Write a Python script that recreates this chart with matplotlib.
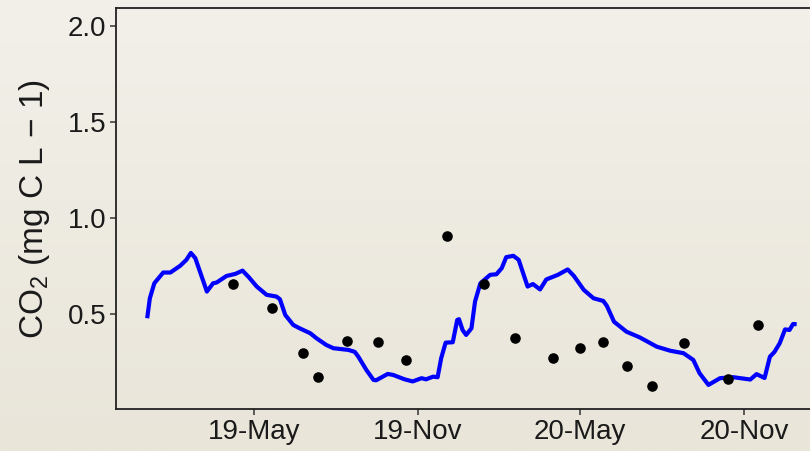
import numpy as np
import pandas as pd
import matplotlib
matplotlib.use("Agg")
import matplotlib.pyplot as plt
import matplotlib.dates as mdates

plt.rcParams["font.family"] = ["Liberation Sans", "DejaVu Sans"]
plt.rcParams["mathtext.fontset"] = "custom"
plt.rcParams["mathtext.rm"] = "Liberation Sans"
plt.rcParams["mathtext.it"] = "Liberation Sans:italic"

# Modelled CO2 concentration (continuous series)
model_dates = [
    "2019-01-01", "2019-01-04", "2019-01-09", "2019-01-19", "2019-01-27",
    "2019-02-07", "2019-02-14", "2019-02-19", "2019-02-24", "2019-03-09",
    "2019-03-16", "2019-03-20", "2019-03-31", "2019-04-10", "2019-04-18",
    "2019-04-25", "2019-05-04", "2019-05-15", "2019-05-26", "2019-05-30",
    "2019-06-05", "2019-06-14", "2019-06-21", "2019-07-03", "2019-07-10",
    "2019-07-21", "2019-07-29", "2019-08-15", "2019-08-22", "2019-08-26",
    "2019-09-04", "2019-09-12", "2019-09-15", "2019-09-28", "2019-10-04",
    "2019-10-17", "2019-10-26", "2019-11-05", "2019-11-10", "2019-11-18",
    "2019-11-23", "2019-11-27", "2019-12-02", "2019-12-10", "2019-12-15",
    "2019-12-17", "2019-12-21", "2019-12-25", "2019-12-31", "2020-01-04",
    "2020-01-10", "2020-01-21", "2020-01-28", "2020-02-03", "2020-02-08",
    "2020-02-16", "2020-02-22", "2020-03-03", "2020-03-09", "2020-03-17",
    "2020-03-24", "2020-04-06", "2020-04-17", "2020-04-24", "2020-05-05",
    "2020-05-16", "2020-05-27", "2020-05-31", "2020-06-08", "2020-06-22",
    "2020-07-07", "2020-07-26", "2020-08-10", "2020-08-25", "2020-09-05",
    "2020-09-12", "2020-09-22", "2020-10-05", "2020-10-20", "2020-11-08",
    "2020-11-15", "2020-11-24", "2020-11-30", "2020-12-05", "2020-12-11",
    "2020-12-17", "2020-12-22", "2020-12-26", "2020-12-30",
]
model_co2 = [
    0.479, 0.583, 0.661, 0.717, 0.717,
    0.752, 0.783, 0.819, 0.792, 0.618,
    0.661, 0.665, 0.699, 0.710, 0.727,
    0.693, 0.644, 0.601, 0.592, 0.578,
    0.496, 0.444, 0.427, 0.401, 0.375,
    0.340, 0.323, 0.314, 0.304, 0.279,
    0.210, 0.158, 0.156, 0.189, 0.184,
    0.161, 0.150, 0.167, 0.161, 0.175,
    0.172, 0.271, 0.352, 0.354, 0.470,
    0.474, 0.418, 0.392, 0.427, 0.566,
    0.661, 0.705, 0.708, 0.740, 0.797,
    0.804, 0.783, 0.644, 0.657, 0.629,
    0.681, 0.705, 0.733, 0.699, 0.627,
    0.583, 0.569, 0.543, 0.461, 0.409,
    0.379, 0.331, 0.310, 0.297, 0.262,
    0.193, 0.132, 0.167, 0.172, 0.160,
    0.188, 0.168, 0.279, 0.303, 0.349,
    0.421, 0.418, 0.449, 0.448,
]

# Measured CO2 samples
obs_dates = [
    "2019-04-07", "2019-05-21", "2019-06-25", "2019-07-12", "2019-08-13",
    "2019-09-17", "2019-10-19", "2019-12-03", "2020-01-14", "2020-02-18",
    "2020-03-31", "2020-05-01", "2020-05-27", "2020-06-23", "2020-07-21",
    "2020-08-25", "2020-10-14", "2020-11-17",
]
obs_co2 = [
    0.658, 0.534, 0.297, 0.172, 0.362,
    0.356, 0.262, 0.908, 0.656, 0.378,
    0.274, 0.323, 0.356, 0.232, 0.128,
    0.351, 0.161, 0.443,
]

y_ticks = [0.5, 1.0, 1.5, 2.0]
x_ticks = ["2019-05-01", "2019-11-01", "2020-05-01", "2020-11-01"]

W, H = 810, 451
fig = plt.figure(figsize=(W / 100, H / 100), dpi=100)

# soft vertical background gradient
bg = fig.add_axes([0, 0, 1, 1], zorder=-10)
grad = np.linspace(0, 1, 256).reshape(-1, 1)
top_c = np.array([0xF2, 0xF0, 0xE9]) / 255
bot_c = np.array([0xE9, 0xE5, 0xD9]) / 255
img = top_c[None, None, :] * (1 - grad[:, :, None]) + bot_c[None, None, :] * grad[:, :, None]
bg.imshow(img, aspect="auto", extent=[0, 1, 0, 1])
bg.set_axis_off()

x_left = pd.Timestamp("2018-11-27")
x_right = pd.Timestamp("2021-02-05")
px_per_day = 0.8909
width_px = (x_right - x_left).days * px_per_day
ax = fig.add_axes([116 / W, (H - 409.3) / H, width_px / W, (409.3 - 8) / H])
ax.patch.set_alpha(0)

md = pd.to_datetime(model_dates)
od = pd.to_datetime(obs_dates)
ax.plot(md, model_co2, color="#0000FF", lw=3.0, solid_joinstyle="round",
        solid_capstyle="butt", zorder=2)
ax.scatter(od, obs_co2, s=58, color="black", zorder=3, linewidths=0)

ax.set_xlim(x_left, x_right)
ax.set_ylim(0.005, 2.094)
ax.set_yticks(y_ticks)
ax.set_yticklabels([f"{v:.1f}" for v in y_ticks])
ax.set_xticks(pd.to_datetime(x_ticks))
ax.xaxis.set_major_formatter(mdates.DateFormatter("%y-%b"))

for s in ax.spines.values():
    s.set_linewidth(1.3)
    s.set_color("#222222")
ax.tick_params(axis="both", length=4, width=1.1, color="#333333",
               labelsize=20, labelcolor="#1a1a1a", pad=3)

ax.set_ylabel("CO$_2$ (mg C L − 1)", fontsize=24, color="#1a1a1a")
ax.yaxis.set_label_coords(-0.089, 0.5)

fig.savefig("out.png", dpi=100)
